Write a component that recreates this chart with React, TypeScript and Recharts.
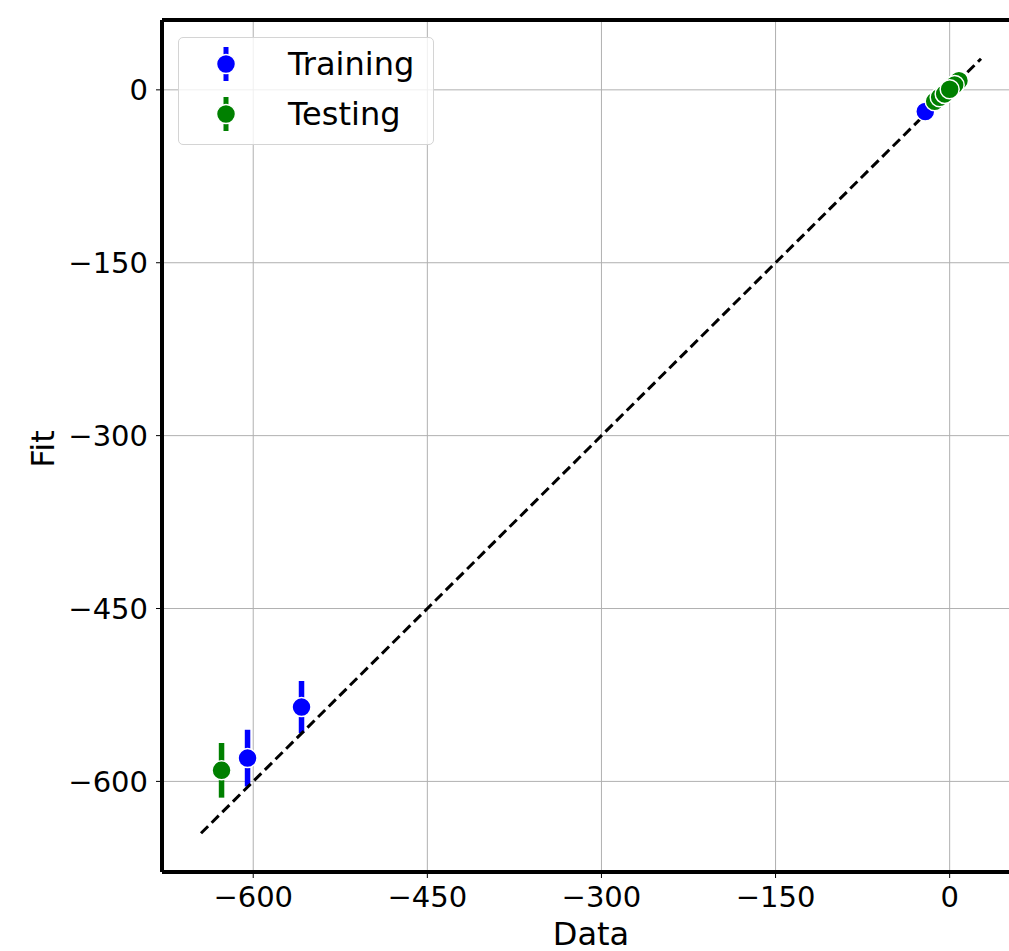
import {
  ScatterChart,
  Scatter,
  XAxis,
  YAxis,
  CartesianGrid,
  ErrorBar,
  Legend,
  ReferenceLine,
} from "recharts";

// values
const trainX = [-604.9, -558.4, -21];
const trainY = [-579.8, -535.5, -18.8];
const trainErr = [24.6, 22.6, 2];

// the solid (0, 0) point is drawn last so it sits on top of the cluster
const testX = [-627.3, -12.9, -8.6, -4.3, 8, 4.3, 0];
const testY = [-590.4, -10, -6.4, -3.5, 8, 4.3, 0.5];
const testErr = [23.7, 2, 2, 2, 2, 2, 2];

const fitLineX = [-645, 27];

const seriesOrder = ["Training", "Testing"];

const axisMin = -678.6;
const axisMax = 60.6;
const ticks = [-600, -450, -300, -150, 0];

const trainData = trainX.map((x, i) => ({ x, y: trainY[i], err: trainErr[i] }));
const testData = testX.map((x, i) => ({ x, y: testY[i], err: testErr[i] }));
const lineData = fitLineX.map((x) => ({ x, y: x }));

const FONT = "DejaVu Sans";

const fmt = (v: number) => (v < 0 ? `\u2212${Math.abs(v)}` : `${v}`);

const Dot = (color: string) => (props: any) => (
  <circle cx={props.cx} cy={props.cy} r={9.5} fill={color} stroke="#fff" strokeWidth={1.5} />
);

const NoDot = () => <g />;

function FitLabel() {
  return (
    <text
      x={54}
      y={449}
      transform="rotate(-90 54 449)"
      textAnchor="middle"
      fontFamily={FONT}
      fontSize={32}
      fill="#000"
    >
      Fit
    </text>
  );
}

function LegendBox(props: any) {
  const items = (props.payload || [])
    .filter((p: any) => seriesOrder.includes(p.value))
    .sort((a: any, b: any) => seriesOrder.indexOf(a.value) - seriesOrder.indexOf(b.value));
  return (
    <div
      style={{
        width: 256,
        height: 108,
        boxSizing: "border-box",
        border: "1px solid #d4d4d4",
        borderRadius: 5,
        background: "rgba(255,255,255,0.8)",
      }}
    >
      <svg width={254} height={106} style={{ display: "block" }}>
        {items.map((item: any, i: number) => {
          const cy = 26 + i * 50;
          return (
            <g key={item.value}>
              <line x1={47} x2={47} y1={cy - 17} y2={cy + 17} stroke={item.color} strokeWidth={5} />
              <circle cx={47} cy={cy} r={9.5} fill={item.color} stroke="#fff" strokeWidth={1.5} />
              <text x={109} y={cy + 11} fontFamily={FONT} fontSize={32} fill="#000">
                {item.value}
              </text>
            </g>
          );
        })}
      </svg>
    </div>
  );
}

export default function App() {
  const tickStyle = { fontFamily: FONT, fontSize: 29, fill: "#000" };
  return (
    <div
      style={{
        position: "absolute",
        left: 0,
        top: 0,
        width: 1009,
        height: 951,
        overflow: "hidden",
        background: "#fff",
      }}
    >
      <ScatterChart width={1060} height={951} margin={{ top: 20, right: 40, left: 0, bottom: 0 }}>
        <CartesianGrid stroke="#b0b0b0" strokeWidth={1} />
        <XAxis
          type="number"
          dataKey="x"
          domain={[axisMin, axisMax]}
          ticks={ticks}
          allowDataOverflow
          tickFormatter={fmt}
          height={79}
          tickSize={6}
          tickMargin={8}
          tick={tickStyle}
          axisLine={{ stroke: "#000", strokeWidth: 4 }}
          tickLine={{ stroke: "#000", strokeWidth: 1 }}
          label={{
            value: "Data",
            position: "insideBottom",
            offset: 6,
            style: { fontFamily: FONT, fontSize: 32, fill: "#000" },
          }}
        />
        <YAxis
          type="number"
          dataKey="y"
          domain={[axisMin, axisMax]}
          ticks={ticks}
          allowDataOverflow
          tickFormatter={fmt}
          width={162}
          tickSize={6}
          tickMargin={8}
          tick={tickStyle}
          axisLine={{ stroke: "#000", strokeWidth: 4 }}
          tickLine={{ stroke: "#000", strokeWidth: 1 }}
          label={<FitLabel />}
        />
        <ReferenceLine y={axisMax} stroke="#000" strokeWidth={4} ifOverflow="visible" />
        <ReferenceLine x={axisMax} stroke="#000" strokeWidth={4} ifOverflow="visible" />
        <Legend
          layout="horizontal"
          align="center"
          verticalAlign="middle"
          wrapperStyle={{ top: 37, left: 178, width: 256, height: 108 }}
          content={<LegendBox />}
        />
        <Scatter
          data={lineData}
          line={{ stroke: "#000", strokeWidth: 3, strokeDasharray: "10 5" }}
          shape={NoDot}
          legendType="none"
          isAnimationActive={false}
        />
        <Scatter name="Training" data={trainData} fill="#0000ff" shape={Dot("#0000ff")} isAnimationActive={false}>
          <ErrorBar dataKey="err" direction="y" width={0} strokeWidth={5.5} stroke="#0000ff" />
        </Scatter>
        <Scatter name="Testing" data={testData} fill="#008000" shape={Dot("#008000")} isAnimationActive={false}>
          <ErrorBar dataKey="err" direction="y" width={0} strokeWidth={5.5} stroke="#008000" />
        </Scatter>
      </ScatterChart>
    </div>
  );
}
